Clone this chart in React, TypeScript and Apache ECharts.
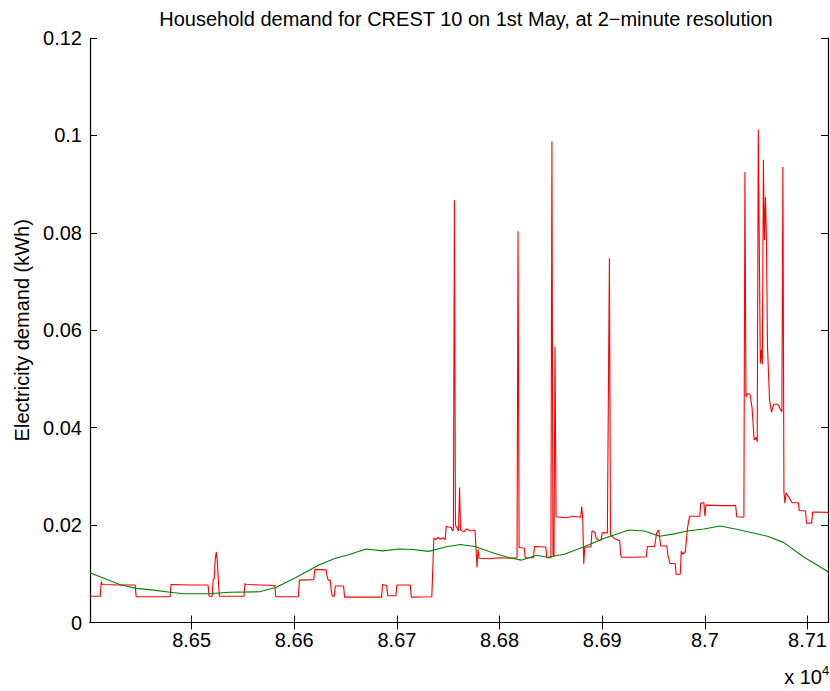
import React, { useEffect, useRef } from "react";
import * as echarts from "echarts";

const titleText = "Household demand for CREST 10 on 1st May, at 2\u2212minute resolution";
const yAxisTitle = "Electricity demand (kWh)";
const xTickValues = [86500, 86600, 86700, 86800, 86900, 87000, 87100];
const yTickValues = [0, 0.02, 0.04, 0.06, 0.08, 0.1, 0.12];

const demandPoints: [number, number][] = [
  [86401, 0.0054], [86411, 0.0054], [86412, 0.0084], [86413, 0.0078], [86430, 0.0077],
  [86445, 0.0077], [86446, 0.0053], [86479, 0.0053], [86480, 0.0078], [86500, 0.0077],
  [86516, 0.0077], [86517, 0.0054], [86520, 0.0054], [86521, 0.0088], [86522, 0.009],
  [86523, 0.013], [86524, 0.0145], [86525, 0.0125], [86526, 0.0088], [86527, 0.0054],
  [86551, 0.0054], [86552, 0.008], [86553, 0.0078], [86581, 0.0076], [86582, 0.0053],
  [86604, 0.0053], [86605, 0.0087], [86619, 0.0088], [86620, 0.0109], [86631, 0.0108],
  [86632, 0.0095], [86633, 0.0087], [86635, 0.0087], [86636, 0.0067], [86637, 0.0054],
  [86639, 0.0054], [86640, 0.0075], [86648, 0.0075], [86649, 0.0052], [86685, 0.0052],
  [86686, 0.0078], [86690, 0.0076], [86691, 0.0055], [86699, 0.0055], [86700, 0.0077],
  [86713, 0.0077], [86714, 0.0052], [86734, 0.0053], [86736, 0.0173], [86738, 0.017],
  [86740, 0.0175], [86742, 0.0171], [86745, 0.0174], [86747, 0.017], [86748, 0.0197],
  [86753, 0.0195], [86754, 0.0188], [86755, 0.019], [86756, 0.0867], [86757, 0.02],
  [86760, 0.0188], [86761, 0.0277], [86762, 0.019], [86765, 0.0186], [86768, 0.0192],
  [86772, 0.0188], [86776, 0.019], [86777, 0.0155], [86778, 0.0113], [86779, 0.015],
  [86780, 0.0132], [86790, 0.0131], [86800, 0.0133], [86810, 0.0132], [86817, 0.0133],
  [86818, 0.0803], [86819, 0.0154], [86824, 0.0153], [86825, 0.0133], [86833, 0.0133],
  [86834, 0.0156], [86845, 0.0155], [86846, 0.0133], [86850, 0.0133], [86851, 0.0988],
  [86852, 0.014], [86853, 0.0135], [86854, 0.0566], [86855, 0.0217], [86865, 0.0215],
  [86872, 0.0218], [86879, 0.0216], [86880, 0.0238], [86881, 0.0215], [86882, 0.012],
  [86883, 0.0155], [86889, 0.0155], [86890, 0.0188], [86893, 0.0185], [86894, 0.0173],
  [86897, 0.0168], [86899, 0.017], [86900, 0.0184], [86905, 0.0184], [86907, 0.0748],
  [86908, 0.018], [86912, 0.0172], [86915, 0.017], [86917, 0.0168], [86918, 0.0138],
  [86919, 0.0134], [86930, 0.0134], [86943, 0.0135], [86944, 0.0156], [86951, 0.0156],
  [86953, 0.0184], [86955, 0.019], [86957, 0.0157], [86963, 0.0157], [86964, 0.0138],
  [86966, 0.0121], [86971, 0.0121], [86972, 0.0099], [86976, 0.0099], [86977, 0.0146],
  [86979, 0.014], [86981, 0.0146], [86983, 0.0193], [86985, 0.0218], [86995, 0.0218],
  [86996, 0.0245], [86999, 0.0246], [87000, 0.0218], [87001, 0.0241], [87015, 0.024],
  [87030, 0.024], [87031, 0.0217], [87038, 0.0216], [87039, 0.0925], [87040, 0.0463],
  [87041, 0.047], [87044, 0.0468], [87046, 0.044], [87048, 0.0375], [87050, 0.038],
  [87051, 0.0371], [87052, 0.1012], [87054, 0.0532], [87055, 0.056], [87056, 0.053],
  [87057, 0.095], [87058, 0.0785], [87059, 0.0873], [87060, 0.078], [87061, 0.0566],
  [87063, 0.0456], [87065, 0.0432], [87067, 0.0448], [87071, 0.0448], [87073, 0.044],
  [87075, 0.0432], [87076, 0.0935], [87077, 0.0268], [87078, 0.0245], [87079, 0.0266],
  [87081, 0.026], [87085, 0.0246], [87091, 0.0246], [87092, 0.023], [87098, 0.0229],
  [87099, 0.0204], [87104, 0.0204], [87105, 0.0227], [87120, 0.0226],
];

const smoothPoints: [number, number][] = [
  [86401, 0.0102], [86430, 0.0078], [86446, 0.007], [86461, 0.0067], [86479, 0.0062],
  [86492, 0.0059], [86517, 0.0059], [86537, 0.0062], [86566, 0.0063], [86582, 0.0072],
  [86602, 0.0093], [86624, 0.0118], [86640, 0.0132], [86653, 0.0139], [86670, 0.0151],
  [86686, 0.0147], [86702, 0.0151], [86715, 0.015], [86731, 0.0146], [86747, 0.0155],
  [86762, 0.016], [86776, 0.0156], [86796, 0.0141], [86808, 0.0134], [86821, 0.0128],
  [86836, 0.0138], [86847, 0.0134], [86863, 0.014], [86883, 0.0156], [86902, 0.0173],
  [86926, 0.019], [86941, 0.0188], [86956, 0.0177], [86970, 0.0182], [86983, 0.0188],
  [86999, 0.0192], [87015, 0.0198], [87032, 0.0191], [87061, 0.0177], [87077, 0.0164],
  [87096, 0.0135], [87120, 0.0104],
];

const FONT = "'Liberation Sans', Arial, Helvetica, sans-serif";

export default function App() {
  const ref = useRef<HTMLDivElement>(null);
  useEffect(() => {
    if (!ref.current) return;
    const chart = echarts.init(ref.current, undefined, { renderer: "svg" });
    const axisLine = { show: true, lineStyle: { color: "#000", width: 1.2 } };
    const tickStyle = { show: true, inside: true, length: 7, lineStyle: { color: "#000", width: 1 } };
    chart.setOption({
      animation: false,
      backgroundColor: "#fff",
      textStyle: { fontFamily: FONT },
      title: {
        text: titleText,
        left: 461,
        textAlign: "center",
        top: 4,
        textStyle: { fontSize: 20, fontWeight: "normal", color: "#000", fontFamily: FONT },
      },
      grid: { left: 90, right: -1, top: 38, bottom: 68.5, containLabel: false },
      xAxis: [
        {
          type: "value",
          min: 86401,
          max: 87120,
          axisLine,
          axisTick: { ...tickStyle, customValues: xTickValues },
          axisLabel: {
            customValues: xTickValues,
            formatter: (v: number) => String(v / 10000),
            color: "#000",
            fontSize: 20,
            margin: 7,
            fontFamily: FONT,
          },
          splitLine: { show: false },
        },
        {
          type: "value",
          position: "top",
          min: 86401,
          max: 87120,
          axisLine,
          axisTick: { ...tickStyle, customValues: xTickValues },
          axisLabel: { show: false, customValues: xTickValues },
          splitLine: { show: false },
        },
      ],
      yAxis: [
        {
          type: "value",
          min: 0,
          max: 0.12,
          interval: 0.02,
          name: yAxisTitle,
          nameLocation: "middle",
          nameGap: 58,
          nameTextStyle: { fontSize: 20, color: "#000", fontFamily: FONT },
          axisLine,
          axisTick: { ...tickStyle, customValues: yTickValues },
          axisLabel: {
            customValues: yTickValues,
            formatter: (v: number) => String(+v.toFixed(2)),
            color: "#000",
            fontSize: 20,
            margin: 8,
            fontFamily: FONT,
          },
          splitLine: { show: false },
        },
        {
          type: "value",
          position: "right",
          min: 0,
          max: 0.12,
          interval: 0.02,
          axisLine,
          axisTick: { ...tickStyle, customValues: yTickValues },
          axisLabel: { show: false },
          splitLine: { show: false },
        },
      ],
      graphic: [
        {
          type: "text",
          x: 822,
          y: 676.5,
          style: {
            text: "x 10",
            textAlign: "right",
            textVerticalAlign: "middle",
            fontSize: 20,
            fontFamily: FONT,
            fill: "#000",
          },
        },
        {
          type: "text",
          x: 822,
          y: 670,
          style: {
            text: "4",
            textAlign: "left",
            textVerticalAlign: "middle",
            fontSize: 13,
            fontFamily: FONT,
            fill: "#000",
          },
        },
      ],
      series: [
        {
          type: "line",
          data: demandPoints,
          showSymbol: false,
          symbol: "none",
          lineStyle: { color: "#ff0000", width: 1.1 },
          itemStyle: { color: "#ff0000" },
        },
        {
          type: "line",
          data: smoothPoints,
          showSymbol: false,
          symbol: "none",
          lineStyle: { color: "#008000", width: 1.1 },
          itemStyle: { color: "#008000" },
        },
      ],
    });
    return () => chart.dispose();
  }, []);
  return (
    <div
      ref={ref}
      style={{ position: "fixed", left: 0, top: 0, width: 830, height: 691, background: "#fff" }}
    />
  );
}
